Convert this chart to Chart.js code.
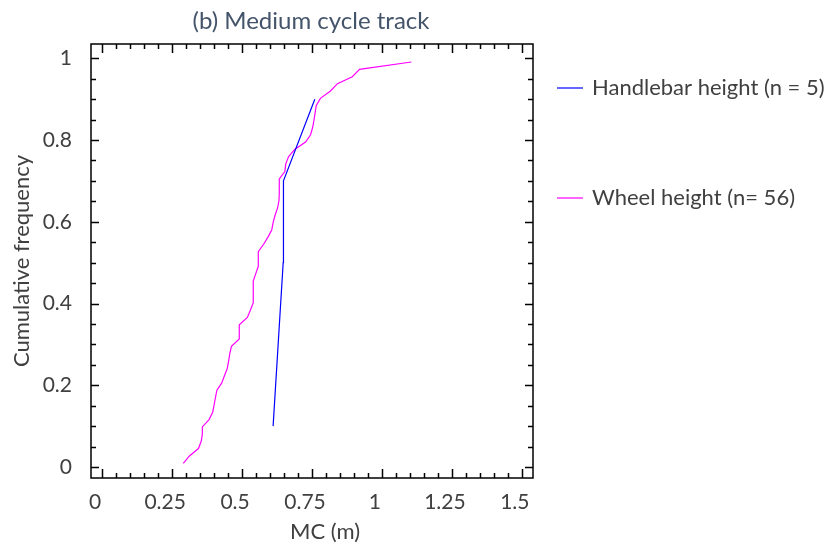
<!DOCTYPE html>
<html>
<head>
<meta charset="utf-8">
<script src="https://cdn.jsdelivr.net/npm/chart.js@4"></script>
<style>
  body { margin: 0; background: #fff; }
  canvas { display: block; }
</style>
</head>
<body>
<canvas id="mcChart" width="828" height="548"></canvas>
<script>
// Handlebar height (n = 5)
const handlebarMC = [0.611, 0.629, 0.647, 0.648, 0.760];
const handlebarFreq = [0.1, 0.3, 0.5, 0.7, 0.9];

// Wheel height (n = 56)
const wheelMC = [
  0.290, 0.312, 0.344, 0.354, 0.358, 0.358, 0.382, 0.395, 0.400, 0.405,
  0.410, 0.427, 0.437, 0.447, 0.452, 0.456, 0.462, 0.490, 0.490, 0.490,
  0.519, 0.530, 0.540, 0.540, 0.540, 0.540, 0.549, 0.558, 0.558, 0.558,
  0.577, 0.593, 0.606, 0.611, 0.618, 0.627, 0.632, 0.633, 0.633, 0.633,
  0.653, 0.656, 0.666, 0.688, 0.727, 0.745, 0.752, 0.757, 0.761, 0.765,
  0.780, 0.816, 0.841, 0.894, 0.920, 1.105
];
const wheelFreq = [
  0.009, 0.027, 0.045, 0.063, 0.080, 0.098, 0.116, 0.134, 0.152, 0.170,
  0.188, 0.205, 0.223, 0.241, 0.259, 0.277, 0.295, 0.313, 0.330, 0.348,
  0.366, 0.384, 0.402, 0.420, 0.438, 0.455, 0.473, 0.491, 0.509, 0.527,
  0.545, 0.563, 0.580, 0.598, 0.616, 0.634, 0.652, 0.670, 0.688, 0.705,
  0.723, 0.741, 0.759, 0.777, 0.795, 0.813, 0.830, 0.848, 0.866, 0.884,
  0.902, 0.920, 0.938, 0.955, 0.973, 0.991
];

const xTickValues = [0, 0.25, 0.5, 0.75, 1, 1.25, 1.5];
const xTickLabels = ['0', '0.25', '0.5', '0.75', '1', '1.25', '1.5'];
const yTickValues = [0, 0.2, 0.4, 0.6, 0.8, 1];
const yTickLabels = ['0', '0.2', '0.4', '0.6', '0.8', '1'];

const FONT = 'Lato, "Open Sans", sans-serif';
const TEXT = '#404040';

// box, inward ticks, titles and legend
const decorPlugin = {
  id: 'decor',
  afterDraw(chart) {
    const ctx = chart.ctx;
    const a = chart.chartArea;
    const xs = chart.scales.x, ys = chart.scales.y;
    ctx.save();
    ctx.strokeStyle = '#000';
    ctx.lineWidth = 1.5;
    ctx.strokeRect(a.left, a.top, a.right - a.left, a.bottom - a.top);

    ctx.beginPath();
    for (let i = 0; i <= 30; i++) {
      const v = i * 0.05;
      const len = (i % 5 === 0) ? 9 : 5;
      const px = Math.round(xs.getPixelForValue(v)) + 0.5;
      ctx.moveTo(px, a.bottom); ctx.lineTo(px, a.bottom - len);
      ctx.moveTo(px, a.top); ctx.lineTo(px, a.top + len);
    }
    for (let i = 0; i <= 20; i++) {
      const v = i * 0.05;
      const len = (i % 4 === 0) ? 8 : 5;
      const py = Math.round(ys.getPixelForValue(v)) + 0.5;
      ctx.moveTo(a.left, py); ctx.lineTo(a.left + len, py);
      ctx.moveTo(a.right, py); ctx.lineTo(a.right - len, py);
    }
    ctx.stroke();

    // title
    ctx.fillStyle = '#44546A';
    ctx.font = '24px ' + FONT;
    ctx.textAlign = 'center';
    ctx.textBaseline = 'middle';
    ctx.fillText('(b) Medium cycle track', 311, 21);

    // axis titles
    ctx.fillStyle = TEXT;
    ctx.font = '22px ' + FONT;
    ctx.fillText('MC (m)', 325, 532);
    ctx.save();
    ctx.translate(22, (a.top + a.bottom) / 2);
    ctx.rotate(-Math.PI / 2);
    ctx.fillText('Cumulative frequency', 0, 0);
    ctx.restore();

    // legend
    const legendY = [88, 198];
    ctx.textAlign = 'left';
    chart.data.datasets.forEach((ds, i) => {
      ctx.strokeStyle = ds.borderColor;
      ctx.lineWidth = 1.2;
      ctx.beginPath();
      ctx.moveTo(557, legendY[i]);
      ctx.lineTo(583, legendY[i]);
      ctx.stroke();
      ctx.fillStyle = TEXT;
      ctx.fillText(ds.label, 592, legendY[i]);
    });
    ctx.restore();
  }
};

const ctx = document.getElementById('mcChart').getContext('2d');
new Chart(ctx, {
  type: 'scatter',
  data: {
    datasets: [{
      label: 'Handlebar height (n = 5)',
      data: handlebarMC.map((v, i) => ({ x: v, y: handlebarFreq[i] })),
      borderColor: '#0000FF',
      showLine: true,
      borderWidth: 1.2,
      pointRadius: 0,
      tension: 0
    }, {
      label: 'Wheel height (n= 56)',
      data: wheelMC.map((v, i) => ({ x: v, y: wheelFreq[i] })),
      borderColor: '#FF00FF',
      showLine: true,
      borderWidth: 1.2,
      pointRadius: 0,
      tension: 0
    }]
  },
  options: {
    responsive: false,
    animation: false,
    devicePixelRatio: 1,
    layout: { padding: { top: 44, right: 295, left: 0, bottom: 0 } },
    plugins: {
      legend: { display: false },
      title: { display: false },
      tooltip: { enabled: false }
    },
    scales: {
      x: {
        type: 'linear',
        min: -0.04,
        max: 1.54,
        grid: { display: false, drawTicks: false },
        border: { display: false },
        afterBuildTicks: s => { s.ticks = xTickValues.map(v => ({ value: v })); },
        afterFit: s => { s.height = 70; s.paddingLeft = 0; s.paddingRight = 0; },
        ticks: {
          padding: 12,
          labelOffset: -7,
          color: TEXT,
          font: { family: FONT, size: 21 },
          callback: (v, i) => xTickLabels[i]
        }
      },
      y: {
        type: 'linear',
        min: -0.027,
        max: 1.035,
        grid: { display: false, drawTicks: false },
        border: { display: false },
        afterBuildTicks: s => { s.ticks = yTickValues.map(v => ({ value: v })); },
        afterFit: s => { s.width = 91; s.paddingTop = 0; s.paddingBottom = 0; },
        ticks: {
          padding: 19,
          color: TEXT,
          font: { family: FONT, size: 21 },
          callback: (v, i) => yTickLabels[i]
        }
      }
    }
  },
  plugins: [decorPlugin]
});
</script>
</body>
</html>
